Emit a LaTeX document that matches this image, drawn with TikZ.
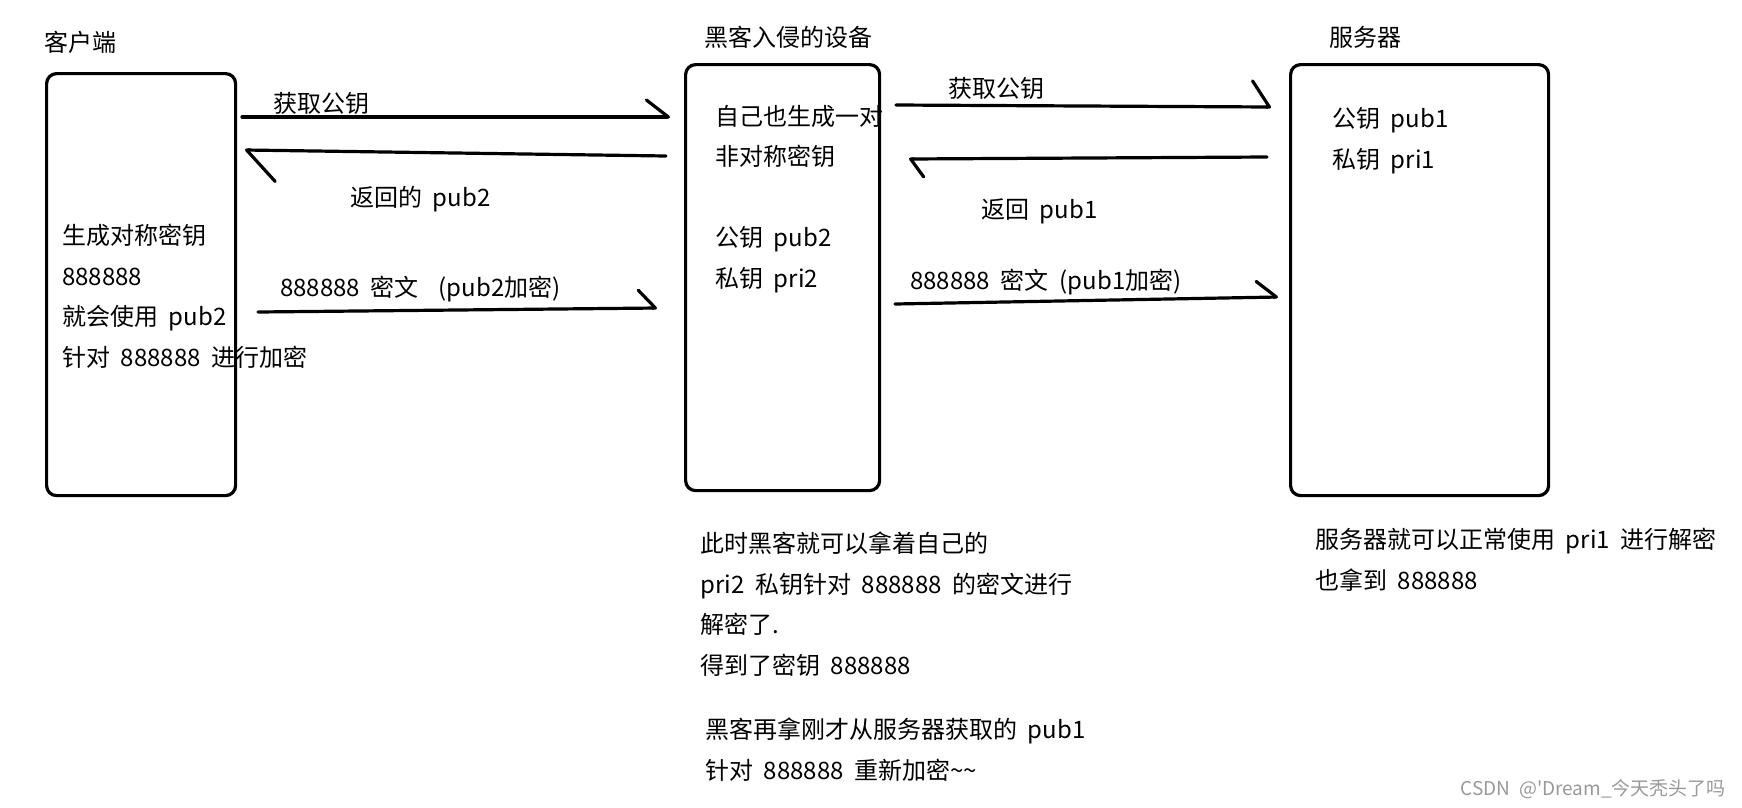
\documentclass[tikz,border=0pt]{standalone}
\usepackage{fontspec}
\setmainfont{Noto Sans CJK SC}[Ligatures=TeXOff, WordSpace=2]
\usetikzlibrary{arrows.meta}

\begin{document}
\begin{tikzpicture}[
  x=1pt, y=-1pt,
  font=\fontsize{24}{40.5}\selectfont,
  box/.style={draw, line width=3.2pt, rounded corners=10pt, anchor=north west, inner sep=0pt},
  txt/.style={anchor=base west, align=left, inner sep=0pt},
  harp/.style 2 args={line width=3.2pt, line cap=round, -{Straight Barb[left, round, length=#1pt, width=#2pt]}}
]
\useasboundingbox (0,0) rectangle (1742,807);

\node[box, minimum width=189pt, minimum height=422pt] (cli) at (45,72) {};
\node[box, minimum width=194pt, minimum height=426pt] (hack) at (684,63) {};
\node[box, minimum width=258pt, minimum height=431pt] (srv) at (1289,63) {};

\node[txt] (clititle) at (44,51) {客户端};
\node[txt] (hacktitle) at (704,46) {黑客入侵的设备};
\node[txt] (srvtitle) at (1329,46) {服务器};

% multi-line nodes: base = last line
\node[txt] (clitext) at (62,366) {生成对称密钥\\888888\\就会使用 pub2\\针对 888888 进行加密};
\node[txt] (hacktext) at (715,287) {自己也生成一对\\非对称密钥\\[40.5pt]公钥 pub2\\私钥 pri2};
\node[txt] (srvtext) at (1332,168) {公钥 pub1\\私钥 pri1};

\node[txt] (hacknote) at (700,674) {此时黑客就可以拿着自己的\\pri2 私钥针对 888888 的密文进行\\解密了.\\得到了密钥 888888};
\node[txt] (hacknote2) at (705,779) {黑客再拿刚才从服务器获取的 pub1\\针对 888888 重新加密\textasciitilde\textasciitilde};
\node[txt] (srvnote) at (1315,589) {服务器就可以正常使用 pri1 进行解密\\也拿到 888888};

\coordinate (a1s) at (242,117);  \coordinate (a1e) at (670,117);
\coordinate (a2s) at (666,156);  \coordinate (a2e) at (245,150);
\coordinate (a3s) at (258,312);  \coordinate (a3e) at (657,308);
\coordinate (a4s) at (896,105);  \coordinate (a4e) at (1271,107);
\coordinate (a5s) at (1267,157); \coordinate (a5e) at (909,159);
\coordinate (a6s) at (895,304);  \coordinate (a6e) at (1278,297);

\draw[harp={22}{34}] (a1s) -- (a1e);
\draw[harp={29}{62}] (a2s) -- (a2e);
\draw[harp={17}{36}] (a3s) -- (a3e);
\draw[harp={17}{52}] (a4s) -- (a4e);
\draw[harp={13}{36}] (a5s) -- (a5e);
\draw[harp={20}{32}] (a6s) -- (a6e);

\node[txt] (lbl1) at (273,112) {获取公钥};
\node[txt] (lbl2) at (350,206) {返回的 pub2};
\node[txt] (lbl3) at (280,296) {888888 密文\hspace{20pt}(pub2加密)};
\node[txt] (lbl4) at (948,97) {获取公钥};
\node[txt] (lbl5) at (981,218) {返回 pub1};
\node[txt] (lbl6) at (910,289) {888888 密文 (pub1加密)};

\node[anchor=base east, inner sep=0pt, text=black!40, font=\fontsize{19}{22}\selectfont] (mark) at (1726,795) {CSDN @'Dream\_今天秃头了吗};
\end{tikzpicture}
\end{document}
